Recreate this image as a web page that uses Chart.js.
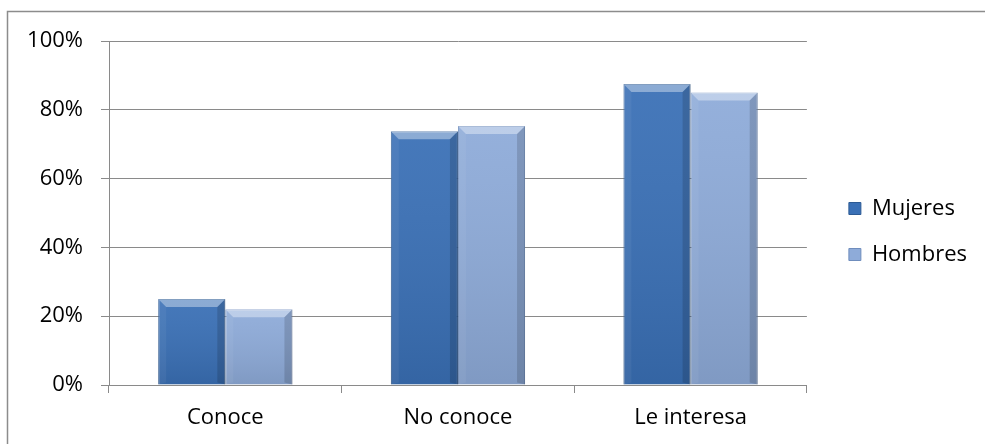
<!DOCTYPE html>
<html>
<head>
<meta charset="utf-8">
<script src="https://cdn.jsdelivr.net/npm/chart.js@4"></script>
<style>
  html, body { margin: 0; padding: 0; background: #fff; }
  #wrap { width: 985px; height: 444px; position: relative; }
</style>
</head>
<body>
<div id="wrap"><canvas id="chart" width="985" height="444"></canvas></div>
<script>
const categories = ["Conoce", "No conoce", "Le interesa"];
const mujeres = [25, 73.8, 87.5];
const hombres = [22, 75.3, 85];
const seriesNames = ["Mujeres", "Hombres"];
const yTicks = [0, 20, 40, 60, 80, 100];

const FONT = "'Open Sans', sans-serif";
const GRID = "#8a8a8a";

// outer chart frame
const framePlugin = {
  id: "frame",
  beforeDraw(chart) {
    const ctx = chart.ctx;
    ctx.save();
    ctx.strokeStyle = "#8c8c8c";
    ctx.lineWidth = 1.5;
    ctx.strokeRect(7.5, 11.5, 990, 500);
    ctx.restore();
  }
};

// bevel look on the bars, using the positions the library computed
const bevelPlugin = {
  id: "bevel",
  afterDatasetsDraw(chart) {
    const ctx = chart.ctx;
    chart.data.datasets.forEach((ds, di) => {
      chart.getDatasetMeta(di).data.forEach((el) => {
        const p = el.getProps(["x", "y", "base", "width"], true);
        const l = p.x - p.width / 2, r = p.x + p.width / 2, t = p.y, b = p.base;
        const d = 8;
        ctx.save();
        let g = ctx.createLinearGradient(0, t, 0, b);
        g.addColorStop(0, "rgba(255,255,255,0.06)");
        g.addColorStop(1, "rgba(0,0,0,0.10)");
        ctx.fillStyle = g;
        ctx.fillRect(l, t, r - l, b - t);
        const poly = (pts, col) => {
          ctx.beginPath();
          ctx.moveTo(pts[0][0], pts[0][1]);
          pts.slice(1).forEach(q => ctx.lineTo(q[0], q[1]));
          ctx.closePath();
          ctx.fillStyle = col;
          ctx.fill();
        };
        poly([[l, t], [r, t], [r - d, t + d], [l + d, t + d]], "rgba(255,255,255,0.38)");
        poly([[l, t], [l + d, t + d], [l + d, b - 2], [l, b]], "rgba(255,255,255,0.05)");
        poly([[r, t], [r - d, t + d], [r - d, b - 2], [r, b]], "rgba(0,0,0,0.14)");
        ctx.restore();
      });
    });
  }
};

// nudge the legend to where the reference puts it
const legendShift = {
  id: "legendShift",
  afterLayout(chart) {
    const lg = chart.legend;
    if (!lg) return;
    lg.left += 18; lg.right += 18;
    lg.top -= 11; lg.bottom -= 11;
  }
};

new Chart(document.getElementById("chart"), {
  type: "bar",
  data: {
    labels: categories,
    datasets: [
      {
        label: seriesNames[0],
        data: mujeres,
        backgroundColor: "#3a70b6",
        borderColor: "#2c5a94",
        borderWidth: 1,
        categoryPercentage: 0.577,
        barPercentage: 1,
      },
      {
        label: seriesNames[1],
        data: hombres,
        backgroundColor: "#8eabd9",
        borderColor: "#6f8dbd",
        borderWidth: 1,
        categoryPercentage: 0.577,
        barPercentage: 1,
      },
    ],
  },
  options: {
    responsive: false,
    animation: false,
    devicePixelRatio: 1,
    layout: { padding: { top: 41, left: 0, bottom: 0, right: 26 } },
    plugins: {
      legend: {
        position: "right",
        labels: {
          font: { family: FONT, size: 22 },
          color: "#000",
          boxWidth: 12,
          boxHeight: 12,
          padding: 24,
        },
      },
      tooltip: { enabled: false },
      title: { display: false },
    },
    scales: {
      x: {
        grid: { display: true, drawOnChartArea: false, drawTicks: true, tickLength: 8, color: GRID, offset: true },
        border: { color: GRID },
        ticks: { font: { family: FONT, size: 22 }, color: "#000", padding: 12 },
        afterFit(scale) { scale.height = 59; },
      },
      y: {
        min: 0,
        max: 100,
        afterBuildTicks(scale) { scale.ticks = yTicks.map(v => ({ value: v })); },
        grid: { color: GRID, tickLength: 8 },
        border: { color: GRID },
        ticks: {
          font: { family: FONT, size: 22 },
          color: "#000",
          padding: 18,
          callback: (v) => v + "%",
        },
        afterFit(scale) { scale.width = 109; },
      },
    },
  },
  plugins: [framePlugin, bevelPlugin, legendShift],
});
</script>
</body>
</html>
